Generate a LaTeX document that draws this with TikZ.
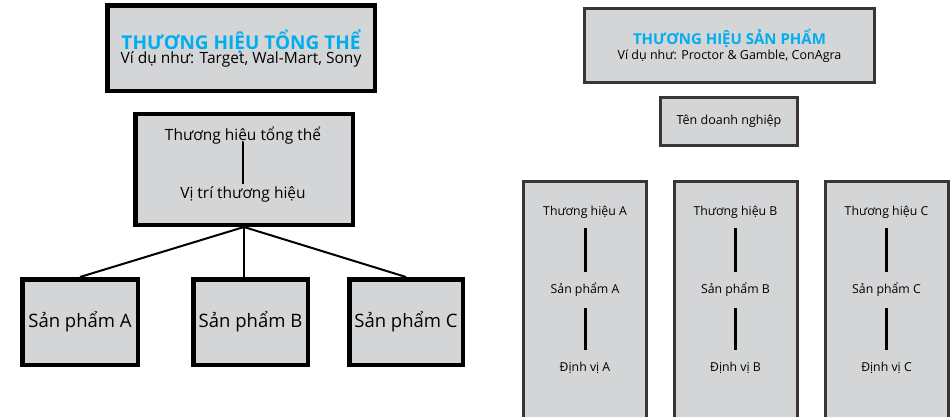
\documentclass[tikz,border=0pt]{standalone}
\usepackage{fontspec}
\setmainfont{Open Sans}
\definecolor{boxgray}{HTML}{D4D5D7}
\definecolor{titleblue}{HTML}{00AEEF}
\definecolor{darkframe}{HTML}{3A3532}

\begin{document}
\begin{tikzpicture}[x=1pt,y=-1pt,
  bigbox/.style={draw=black,line width=4.5pt,fill=boxgray,inner sep=0pt,align=center},
  prodbox/.style={draw=darkframe,line width=3pt,fill=boxgray,inner sep=0pt,align=center},
  fan/.style={line width=2pt},
  bar/.style={line width=3pt}]
\useasboundingbox (0,0) rectangle (951,417);
\clip (0,0) rectangle (951,417);
% left half: corporate brand
\node[bigbox,minimum width=267.5pt,minimum height=85.5pt] (corp) at (241,48.5)
  {{\fontsize{19}{20}\selectfont\bfseries\color{titleblue}THƯƠNG HIỆU TỔNG THỂ}\\[-2pt]
   {\fontsize{15.5}{18}\selectfont Ví dụ như: Target, Wal-Mart, Sony}};
\node[bigbox,minimum width=217.5pt,minimum height=110.5pt] (mid) at (244,169.5) {};
\node[font=\fontsize{15.5}{18}\selectfont] (mtop) at (243,136) {Thương hiệu tổng thể};
\node[font=\fontsize{15.5}{18}\selectfont] (mbot) at (243,194) {Vị trí thương hiệu};
\draw[fan,shorten <=6pt,shorten >=10pt] (mtop.center) -- (mbot.center);
\node[bigbox,minimum width=115.5pt,minimum height=85.5pt,font=\fontsize{18.5}{22}\selectfont] (pa) at (80,322) {Sản phẩm A};
\node[bigbox,minimum width=114.5pt,minimum height=85.5pt,font=\fontsize{18.5}{22}\selectfont] (pb) at (250.5,322) {Sản phẩm B};
\node[bigbox,minimum width=113.5pt,minimum height=85.5pt,font=\fontsize{18.5}{22}\selectfont] (pc) at (406,322) {Sản phẩm C};
\draw[fan] (mid.south) -- (pa.north);
\draw[fan] (mid.south) -- (mid.south |- pb.north);
\draw[fan] (mid.south) -- (pc.north);
% right half: product brands
\node[prodbox,minimum width=290pt,minimum height=74pt] (prod) at (729.5,45.5)
  {{\fontsize{15}{16}\selectfont\bfseries\color{titleblue}THƯƠNG HIỆU SẢN PHẨM}\\[1pt]
   {\fontsize{12.5}{14}\selectfont Ví dụ như: Proctor \& Gamble, ConAgra}};
\node[prodbox,minimum width=137pt,minimum height=48pt,font=\fontsize{12.5}{14}\selectfont] (firm) at (729,121.5) {Tên doanh nghiệp};
\foreach \c/\x in {A/585,B/735.5,C/886.5}{
  \node[prodbox,minimum width=123pt,minimum height=248.5pt] (col\c) at (\x,305.75) {};
  \node[font=\fontsize{12.3}{14}\selectfont] (brand\c) at (\x,212) {Thương hiệu \c};
  \node[font=\fontsize{12.3}{14}\selectfont] (item\c) at (\x,290) {Sản phẩm \c};
  \node[font=\fontsize{12.3}{14}\selectfont] (pos\c) at (\x,368) {Định vị \c};
  \draw[bar,shorten <=16pt,shorten >=18pt] (brand\c.center) -- (item\c.center);
  \draw[bar,shorten <=18pt,shorten >=18pt] (item\c.center) -- (pos\c.center);
}
\end{tikzpicture}
\end{document}
